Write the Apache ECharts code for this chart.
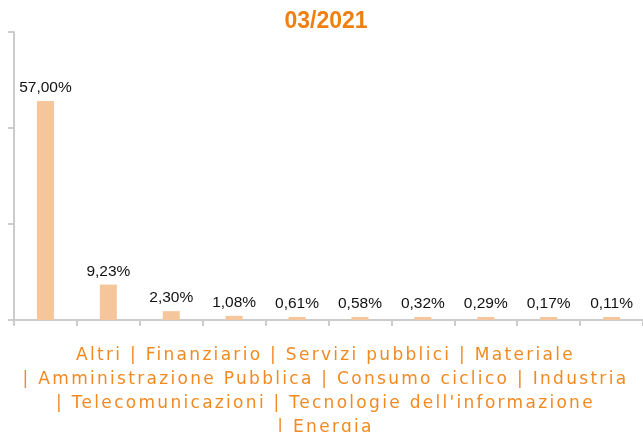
<!DOCTYPE html>
<html>
<head>
<meta charset="utf-8">
<script src="https://cdn.jsdelivr.net/npm/echarts@6/dist/echarts.min.js"></script>
<style>
  html, body { margin: 0; padding: 0; background: #fff; }
  .wrap { position: relative; width: 643px; height: 432px; overflow: hidden; }
  #chart { position: absolute; left: 0; top: 0; width: 643px; height: 432px; }
  .caption {
    position: absolute;
    left: 0;
    top: 342px;
    width: 643px;
    box-sizing: border-box;
    padding-left: 8px;
    text-align: center;
    font-family: 'DejaVu Sans', sans-serif;
    font-size: 17px;
    line-height: 24px;
    letter-spacing: 2.3px;
    color: #f28a22;
    white-space: nowrap;
  }
</style>
</head>
<body>
<div class="wrap">
  <div id="chart"></div>
  <div class="caption" id="caption"></div>
</div>
<script>
// data
const title = '03/2021'
const categories = [
  'Altri', 'Finanziario', 'Servizi pubblici', 'Materiale',
  'Amministrazione Pubblica', 'Consumo ciclico', 'Industria',
  'Telecomunicazioni', "Tecnologie dell'informazione", 'Energia'
]
const values = [57.00, 9.23, 2.30, 1.08, 0.61, 0.58, 0.32, 0.29, 0.17, 0.11]
const yTicks = [0, 25, 50, 75]
// caption line breaks (index of first category on each line)
const lineStarts = [0, 4, 7, 9]

// caption under the chart, categories joined with " | "
const lines = lineStarts.map((start, i) => {
  const end = i + 1 < lineStarts.length ? lineStarts[i + 1] : categories.length
  const text = categories.slice(start, end).join(' | ')
  return i === 0 ? text : '| ' + text
})
const captionEl = document.getElementById('caption')
lines.forEach((line, i) => {
  if (i > 0) captionEl.appendChild(document.createElement('br'))
  captionEl.appendChild(document.createTextNode(line))
})

const chart = echarts.init(document.getElementById('chart'), null, { renderer: 'canvas' })

const axisColor = '#cccccc'

const option = {
  animation: false,
  title: {
    text: title,
    left: 326,
    top: 10,
    textAlign: 'center',
    padding: 0,
    textStyle: {
      color: '#f07f12',
      fontFamily: 'Liberation Sans, Arial, sans-serif',
      fontWeight: 'bold',
      fontSize: 23
    }
  },
  grid: {
    left: 14,
    right: -2,
    top: 32,
    bottom: 112
  },
  xAxis: {
    type: 'category',
    data: categories,
    axisLine: { show: true, lineStyle: { color: axisColor, width: 2 } },
    axisTick: { show: true, interval: 0, length: 6, lineStyle: { color: axisColor, width: 2 } },
    axisLabel: { show: false, interval: 0 },
    splitLine: { show: false }
  },
  yAxis: {
    type: 'value',
    min: yTicks[0],
    max: yTicks[yTicks.length - 1],
    interval: yTicks[1] - yTicks[0],
    axisLine: { show: true, lineStyle: { color: axisColor, width: 2 } },
    axisTick: { show: true, length: 6, lineStyle: { color: axisColor, width: 2 } },
    axisLabel: { show: false },
    splitLine: { show: false }
  },
  series: [
    {
      type: 'bar',
      data: values,
      barWidth: 17,
      barMinHeight: 3,
      itemStyle: { color: '#f5c69b' },
      label: {
        show: true,
        position: 'top',
        distance: 5,
        color: '#111',
        fontFamily: 'Liberation Sans, Arial, sans-serif',
        fontSize: 15.5,
        formatter: p => p.value.toFixed(2).replace('.', ',') + '%'
      }
    }
  ]
}

chart.setOption(option)
</script>
</body>
</html>
